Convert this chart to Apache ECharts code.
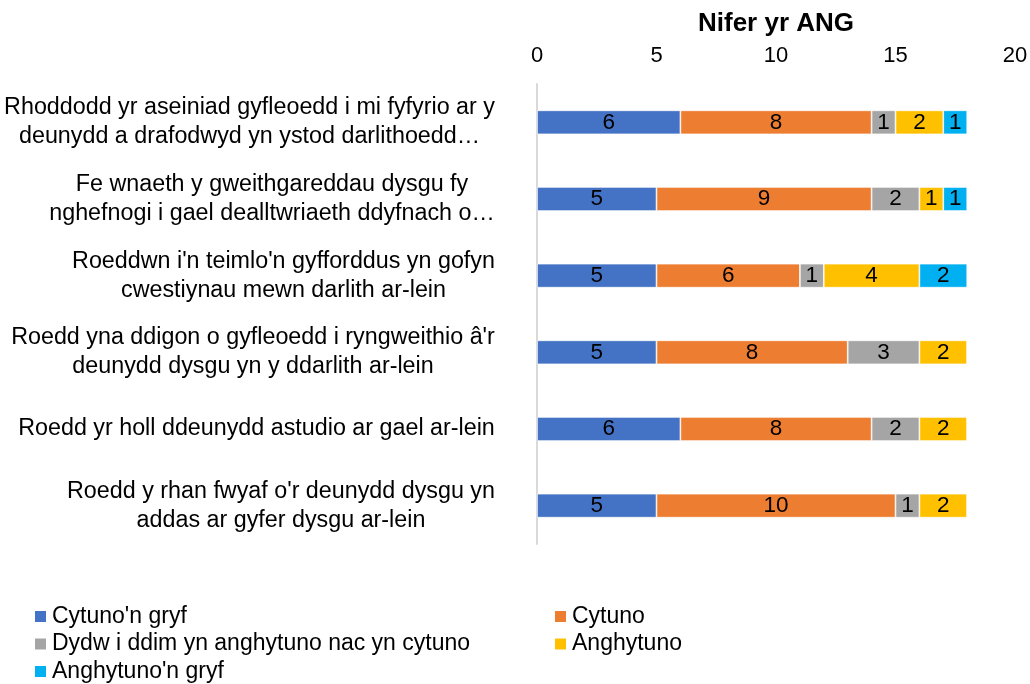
<!DOCTYPE html>
<html lang="cy">
<head>
  <meta charset="utf-8">
  <title>Nifer yr ANG</title>
  <script src="https://cdn.jsdelivr.net/npm/echarts@6.0.0/dist/echarts.min.js"></script>
  <style>
    html, body { margin: 0; padding: 0; background: #fff; }
    #chart { width: 1030px; height: 684px; }
  </style>
</head>
<body>
<div id="chart"></div>
<script>
  // categories, top to bottom
  const categories = [
    "Rhoddodd yr aseiniad gyfleoedd i mi fyfyrio ar y\ndeunydd a drafodwyd yn ystod darlithoedd…",
    "Fe wnaeth y gweithgareddau dysgu fy\nnghefnogi i gael dealltwriaeth ddyfnach o…",
    "Roeddwn i'n teimlo'n gyfforddus yn gofyn\ncwestiynau mewn darlith ar-lein",
    "Roedd yna ddigon o gyfleoedd i ryngweithio â'r\ndeunydd dysgu yn y ddarlith ar-lein",
    "Roedd yr holl ddeunydd astudio ar gael ar-lein",
    "Roedd y rhan fwyaf o'r deunydd dysgu yn\naddas ar gyfer dysgu ar-lein"
  ];
  const seriesNames = ["Cytuno'n gryf", "Cytuno", "Dydw i ddim yn anghytuno nac yn cytuno", "Anghytuno", "Anghytuno'n gryf"];
  const cytunoGryf    = [6, 5, 5, 5, 6, 5];
  const cytuno        = [8, 9, 6, 8, 8, 10];
  const niwtral       = [1, 2, 1, 3, 2, 1];
  const anghytuno     = [2, 1, 4, 2, 2, 2];
  const anghytunoGryf = [1, 1, 2, 0, 0, 0];
  const xMin = 0, xMax = 20, xStep = 5;

  const values = [cytunoGryf, cytuno, niwtral, anghytuno, anghytunoGryf];
  const colors = ['#4472C4', '#ED7D31', '#A5A5A5', '#FFC000', '#00B0F0'];
  const font = "'Liberation Sans', Arial, sans-serif";

  // measure each label so its lines can be centred inside a right-aligned block
  const ctx = document.createElement('canvas').getContext('2d');
  ctx.font = "23.3px 'Liberation Sans'";
  const rich = {};
  categories.forEach(function (c, i) {
    const w = Math.max.apply(null, c.split('\n').map(function (l) { return ctx.measureText(l).width; }));
    rich['c' + i] = { width: Math.ceil(w), align: 'center', fontSize: 23.3, lineHeight: 29, color: '#000', fontFamily: font };
  });

  const legendText = { fontSize: 23, lineHeight: 23, color: '#000' };

  const chart = echarts.init(document.getElementById('chart'));

  chart.setOption({
    animation: false,
    textStyle: { fontFamily: font },
    grid: { left: 537, right: 15, top: 84, bottom: 140, outerBoundsMode: 'none', containLabel: false },
    xAxis: {
      type: 'value',
      position: 'top',
      min: xMin, max: xMax, interval: xStep,
      name: 'Nifer yr ANG',
      nameLocation: 'middle',
      nameGap: 47,
      nameTextStyle: { fontSize: 26, fontWeight: 'bold', color: '#000' },
      axisLine: { show: false },
      axisTick: { show: false },
      splitLine: { show: false },
      axisLabel: { fontSize: 22, color: '#000', margin: 17 }
    },
    yAxis: {
      type: 'category',
      inverse: true,
      data: categories,
      axisLine: { show: true, lineStyle: { color: '#D9D9D9', width: 2 } },
      axisTick: { show: false },
      axisLabel: {
        margin: 42,
        formatter: function (v, i) {
          return v.split('\n').map(function (l) { return '{c' + i + '|' + l + '}'; }).join('\n');
        },
        rich: rich
      }
    },
    legend: [
      {
        left: 33, top: 605, orient: 'vertical', padding: 0, height: 79,
        data: [seriesNames[0], seriesNames[2], seriesNames[4]],
        itemWidth: 13, itemHeight: 13, itemGap: 4.5, icon: 'rect',
        selectedMode: false,
        textStyle: legendText
      },
      {
        left: 553, top: 605, orient: 'vertical', padding: 0, height: 79,
        data: [seriesNames[1], seriesNames[3]],
        itemWidth: 13, itemHeight: 13, itemGap: 4.5, icon: 'rect',
        selectedMode: false,
        textStyle: legendText
      }
    ],
    series: values.map(function (vals, k) {
      return {
        name: seriesNames[k],
        type: 'bar',
        stack: 'total',
        barWidth: 24,
        data: vals,
        itemStyle: { color: colors[k], borderColor: '#fff', borderWidth: 0.7 },
        label: {
          show: true,
          position: 'inside',
          fontSize: 22.5,
          color: '#000',
          formatter: function (p) { return p.value ? p.value : ''; }
        }
      };
    })
  });
</script>
</body>
</html>
